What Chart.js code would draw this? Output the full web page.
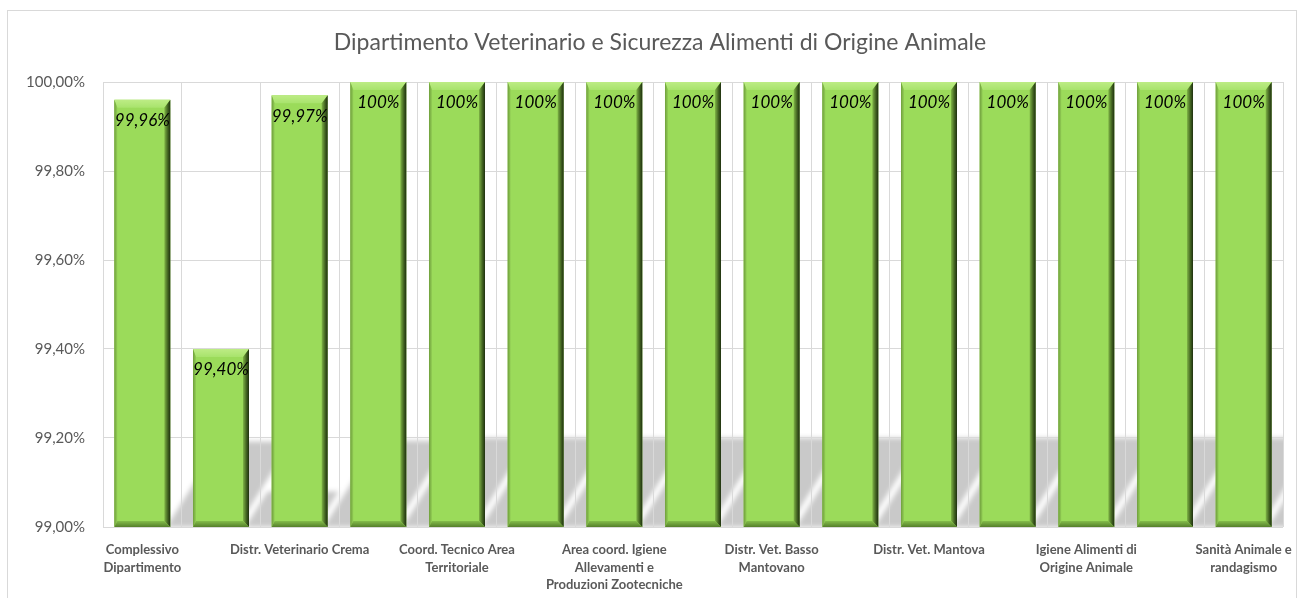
<!DOCTYPE html>
<html>
<head>
<meta charset="utf-8">
<script src="https://cdn.jsdelivr.net/npm/chart.js@4.4.1/dist/chart.umd.min.js"></script>
<style>
  html, body { margin: 0; padding: 0; background: #fff; overflow: hidden; }
  #frame {
    position: absolute; left: 7px; top: 10px;
    width: 1290px; height: 600px;
    border: 1px solid #d9d9d9; box-sizing: border-box;
  }
</style>
</head>
<body>
<div id="frame"><canvas id="chart"></canvas></div>
<script>
// Categories (Excel shows only every other label, the others are left blank)
const categories = [
  ['Complessivo', 'Dipartimento'], '',
  'Distr. Veterinario Crema', '',
  ['Coord. Tecnico Area', 'Territoriale'], '',
  ['Area coord. Igiene', 'Allevamenti e', 'Produzioni Zootecniche'], '',
  ['Distr. Vet. Basso', 'Mantovano'], '',
  'Distr. Vet. Mantova', '',
  ['Igiene Alimenti di', 'Origine Animale'], '',
  ['Sanità Animale e', 'randagismo']
];
const values = [99.96, 99.40, 99.97, 100, 100, 100, 100, 100, 100, 100, 100, 100, 100, 100, 100];
const yMin = 99;
const yMax = 100;
const yStep = 0.2;

const titleText = 'Dipartimento Veterinario e Sicurezza Alimenti di Origine Animale';
const grey = '#595959';
const gridColor = '#d9d9d9';
const font = 'Lato, "Open Sans", sans-serif';

// Italian style number: 99,96%
const fmtPct = (v, digits) => v.toFixed(digits).replace('.', ',') + '%';
const valueLabel = v => (v === 100 ? '100%' : fmtPct(v, 2));

// bar geometry, with the base clamped to the plot bottom (bars start at 0 and get clipped)
const barBox = (chart, bar) => {
  const { x, y, base, width } = bar.getProps(['x', 'y', 'base', 'width'], true);
  const b = Math.min(base, chart.chartArea.bottom);
  return { x, y, base: b, w: width, l: x - width / 2, r: x + width / 2 };
};

// Title, placed like the Excel one (a little right of centre)
const titlePlugin = {
  id: 'excelTitle',
  afterDraw(chart) {
    const { ctx } = chart;
    ctx.save();
    ctx.fillStyle = grey;
    ctx.font = '23px ' + font;
    ctx.textAlign = 'center';
    ctx.textBaseline = 'middle';
    ctx.fillText(titleText, 652, 32);
    ctx.restore();
  }
};

// Perspective shadow behind the bars (drawn before the grid)
const shadowPlugin = {
  id: 'barShadow',
  beforeDraw(chart) {
    const { ctx, chartArea: a } = chart;
    const meta = chart.getDatasetMeta(0);
    ctx.save();
    ctx.beginPath();
    ctx.rect(a.left, a.top, a.right - a.left, a.bottom - a.top);
    ctx.clip();
    ctx.filter = 'blur(2.5px)';
    ctx.fillStyle = 'rgba(0,0,0,0.21)';
    ctx.beginPath();
    meta.data.forEach(bar => {
      const { y, base, w, l, r } = barBox(chart, bar);
      const h = (base - y) * 0.2;   // shadow height
      const dx = h * 0.63;          // skew to the upper right
      const ox = w * 0.93;          // shadow offset
      const ex = w * 0.27;          // shadow a bit wider than the bar
      ctx.moveTo(l + ox, base);
      ctx.lineTo(r + ox + ex, base);
      ctx.lineTo(r + ox + ex + dx, base - h);
      ctx.lineTo(l + ox + dx, base - h);
      ctx.closePath();
    });
    ctx.fill();
    ctx.restore();
  }
};

// Bevel edges on each bar + value labels inside the top
const bevelPlugin = {
  id: 'bevel',
  afterDatasetsDraw(chart) {
    const { ctx } = chart;
    const meta = chart.getDatasetMeta(0);
    meta.data.forEach((bar, i) => {
      const { x, y, base, l, r } = barBox(chart, bar);
      const bt = 8, br = 6, bb = 6, bl = 3;
      ctx.save();

      // top bevel (light)
      let g = ctx.createLinearGradient(0, y, 0, y + bt);
      g.addColorStop(0, '#bdec85');
      g.addColorStop(1, '#a8e36c');
      ctx.fillStyle = g;
      ctx.beginPath();
      ctx.moveTo(l, y); ctx.lineTo(r, y); ctx.lineTo(r - br, y + bt); ctx.lineTo(l + bl, y + bt);
      ctx.closePath(); ctx.fill();

      // left bevel
      g = ctx.createLinearGradient(l, 0, l + bl, 0);
      g.addColorStop(0, '#6f9e3c');
      g.addColorStop(1, '#93cf55');
      ctx.fillStyle = g;
      ctx.beginPath();
      ctx.moveTo(l, y); ctx.lineTo(l + bl, y + bt); ctx.lineTo(l + bl, base - bb); ctx.lineTo(l, base);
      ctx.closePath(); ctx.fill();

      // right bevel (dark)
      g = ctx.createLinearGradient(r - br, 0, r, 0);
      g.addColorStop(0, '#7fb446');
      g.addColorStop(0.6, '#3f5f1f');
      g.addColorStop(1, '#1f3010');
      ctx.fillStyle = g;
      ctx.beginPath();
      ctx.moveTo(r, y); ctx.lineTo(r, base); ctx.lineTo(r - br, base - bb); ctx.lineTo(r - br, y + bt);
      ctx.closePath(); ctx.fill();

      // bottom bevel
      g = ctx.createLinearGradient(0, base - bb, 0, base);
      g.addColorStop(0, '#84bd4a');
      g.addColorStop(1, '#557f2b');
      ctx.fillStyle = g;
      ctx.beginPath();
      ctx.moveTo(l, base); ctx.lineTo(l + bl, base - bb); ctx.lineTo(r - br, base - bb); ctx.lineTo(r, base);
      ctx.closePath(); ctx.fill();

      // value label
      ctx.fillStyle = '#000';
      ctx.font = 'italic 17px ' + font;
      ctx.textAlign = 'center';
      ctx.textBaseline = 'middle';
      ctx.fillText(valueLabel(values[i]), x, y + 21);
      ctx.restore();
    });
  }
};

new Chart(document.getElementById('chart'), {
  type: 'bar',
  data: {
    labels: categories,
    datasets: [{
      data: values,
      backgroundColor: '#9bdb5a',
      borderWidth: 0,
      barPercentage: 0.712,
      categoryPercentage: 1
    }]
  },
  options: {
    responsive: true,
    maintainAspectRatio: false,
    animation: false,
    layout: { padding: { left: 0, right: 13, top: 71, bottom: 0 } },
    plugins: {
      legend: { display: false },
      tooltip: { enabled: false },
      title: { display: false }
    },
    scales: {
      x: {
        grid: { color: gridColor, drawTicks: false, offset: true },
        border: { display: false },
        afterFit: scale => {
          scale.height = 82;
          scale.paddingLeft = 0;
          scale.paddingRight = 0;
        },
        ticks: {
          autoSkip: false,
          maxRotation: 0,
          padding: 14,
          color: grey,
          font: { family: font, size: 13, weight: 'bold', lineHeight: 1.35 }
        }
      },
      y: {
        min: yMin,
        max: yMax,
        grid: { color: gridColor, drawTicks: false },
        border: { display: false },
        afterFit: scale => {
          scale.width = 95;
          scale.paddingTop = 0;
          scale.paddingBottom = 0;
        },
        ticks: {
          stepSize: yStep,
          padding: 18,
          color: grey,
          font: { family: font, size: 15 },
          callback: v => fmtPct(v, 2)
        }
      }
    }
  },
  plugins: [shadowPlugin, bevelPlugin, titlePlugin]
});
</script>
</body>
</html>
